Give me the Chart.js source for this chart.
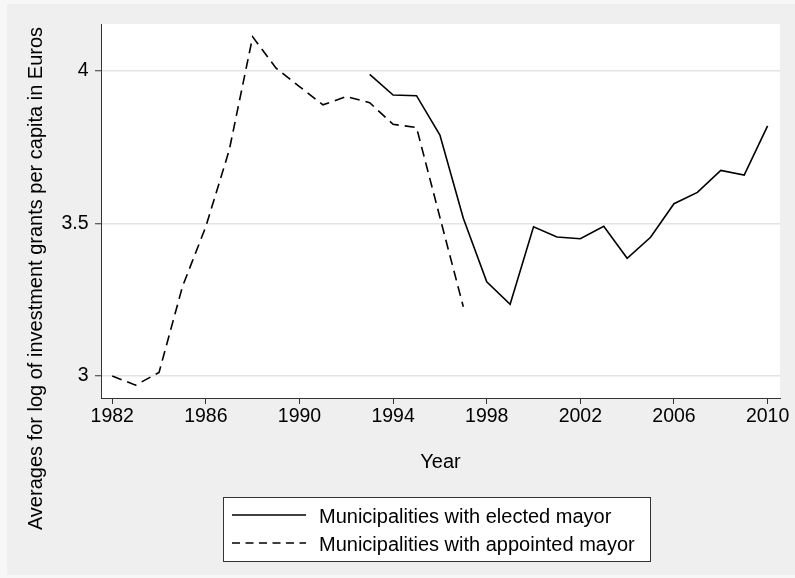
<!DOCTYPE html>
<html>
<head>
<meta charset="utf-8">
<script src="https://cdn.jsdelivr.net/npm/chart.js@4.4.1/dist/chart.umd.min.js"></script>
<style>
  html, body { margin: 0; padding: 0; background: #f7f7f7; }
  canvas { display: block; }
</style>
</head>
<body>
<canvas id="chart" width="795" height="578"></canvas>
<script>
// Yearly averages, appointed-mayor municipalities
const appointedYears  = [1982, 1983, 1984, 1985, 1986, 1987, 1988, 1989, 1990, 1991, 1992, 1993, 1994, 1995, 1996, 1997];
const appointedValues = [3.000, 2.970, 3.012, 3.293, 3.490, 3.741, 4.112, 4.009, 3.949, 3.889, 3.916, 3.896, 3.825, 3.815, 3.520, 3.227];

// Yearly averages, elected-mayor municipalities
const electedYears  = [1993, 1994, 1995, 1996, 1997, 1998, 1999, 2000, 2001, 2002, 2003, 2004, 2005, 2006, 2007, 2008, 2009, 2010];
const electedValues = [3.989, 3.921, 3.919, 3.790, 3.517, 3.309, 3.235, 3.489, 3.456, 3.450, 3.491, 3.386, 3.455, 3.565, 3.602, 3.674, 3.659, 3.820];

const xTickYears  = [1982, 1986, 1990, 1994, 1998, 2002, 2006, 2010];
const xTickLabels = ['1982', '1986', '1990', '1994', '1998', '2002', '2006', '2010'];
const yTickValues = [3, 3.5, 4];
const yTickLabels = ['3', '3.5', '4'];

const seriesLabels = ['Municipalities with elected mayor', 'Municipalities with appointed mayor'];
const xAxisTitle = 'Year';
const yAxisTitle = 'Averages for log of investment grants per capita in Euros';

const FONT = '"Liberation Sans", Arial, Helvetica, sans-serif';
const INK = '#000000';
const AXIS = '#333333';
const DASH = [10, 6];

function toPoints(xs, ys) {
  return xs.map((x, i) => ({ x: x, y: ys[i] }));
}

// Page backdrop: outer margin, grey graph region, white plot region
const backdrop = {
  id: 'backdrop',
  beforeDraw(chart) {
    const ctx = chart.ctx;
    const a = chart.chartArea;
    ctx.save();
    ctx.fillStyle = '#f7f7f7';
    ctx.fillRect(0, 0, chart.width, chart.height);
    ctx.fillStyle = '#efefef';
    ctx.fillRect(7, 4, chart.width - 7, chart.height - 7);
    ctx.fillStyle = '#ffffff';
    ctx.fillRect(a.left, a.top, a.right - a.left, a.bottom - a.top);
    ctx.restore();
  }
};

// Axis titles and the boxed legend underneath
const annotations = {
  id: 'annotations',
  afterDraw(chart) {
    const ctx = chart.ctx;
    const a = chart.chartArea;
    ctx.save();
    ctx.fillStyle = INK;
    ctx.font = '20px ' + FONT;

    // x title
    ctx.textAlign = 'center';
    ctx.textBaseline = 'alphabetic';
    ctx.fillText(xAxisTitle, (a.left + a.right) / 2, 467.5);

    // y title, rotated
    ctx.save();
    ctx.translate(41.5, 278.5);
    ctx.rotate(-Math.PI / 2);
    ctx.fillText(yAxisTitle, 0, 0);
    ctx.restore();

    // legend box
    const bx = 223, by = 497, bw = 428, bh = 65;
    ctx.fillStyle = '#ffffff';
    ctx.fillRect(bx, by, bw, bh);
    ctx.strokeStyle = AXIS;
    ctx.lineWidth = 1;
    ctx.strokeRect(bx + 0.5, by + 0.5, bw - 1, bh - 1);

    const rows = [515, 543];
    chart.data.datasets.forEach((ds, i) => {
      const y = rows[i];
      ctx.save();
      ctx.strokeStyle = ds.borderColor;
      ctx.lineWidth = ds.borderWidth;
      ctx.setLineDash(ds.borderDash && ds.borderDash.length ? [8, 5.5] : []);
      ctx.beginPath();
      ctx.moveTo(232, y);
      ctx.lineTo(306, y);
      ctx.stroke();
      ctx.restore();
      ctx.fillStyle = INK;
      ctx.textAlign = 'left';
      ctx.textBaseline = 'alphabetic';
      ctx.fillText(ds.label, 319, y + 7.5);
    });
    ctx.restore();
  }
};

new Chart(document.getElementById('chart'), {
  type: 'line',
  data: {
    datasets: [
      {
        label: seriesLabels[0],
        data: toPoints(electedYears, electedValues),
        borderColor: INK,
        borderWidth: 1.6,
        borderDash: [],
        pointRadius: 0,
        tension: 0,
        fill: false
      },
      {
        label: seriesLabels[1],
        data: toPoints(appointedYears, appointedValues),
        borderColor: INK,
        borderWidth: 1.6,
        borderDash: DASH,
        pointRadius: 0,
        tension: 0,
        fill: false
      }
    ]
  },
  options: {
    responsive: false,
    animation: false,
    devicePixelRatio: 1,
    layout: { padding: { top: 24, right: 15, bottom: 0, left: 0 } },
    plugins: {
      legend: { display: false },
      title: { display: false },
      tooltip: { enabled: false }
    },
    scales: {
      x: {
        type: 'linear',
        position: 'bottom',
        min: 1981.52,
        max: 2010.53,
        afterBuildTicks(scale) {
          scale.ticks = xTickYears.map(v => ({ value: v }));
        },
        afterFit(scale) { scale.height = 180; },
        ticks: {
          autoSkip: false,
          maxRotation: 0,
          padding: 1,
          color: INK,
          font: { family: FONT, size: 19.5 },
          callback(value) {
            const i = xTickYears.indexOf(value);
            return i >= 0 ? xTickLabels[i] : '';
          }
        },
        grid: {
          drawOnChartArea: false,
          drawTicks: true,
          tickLength: 6,
          tickColor: AXIS,
          tickWidth: 1
        },
        border: { display: true, color: AXIS, width: 1 }
      },
      y: {
        type: 'linear',
        position: 'left',
        min: 2.928,
        max: 4.154,
        afterBuildTicks(scale) {
          scale.ticks = yTickValues.map(v => ({ value: v }));
        },
        afterFit(scale) { scale.width = 101; },
        ticks: {
          autoSkip: false,
          padding: 6.5,
          color: INK,
          font: { family: FONT, size: 19.5 },
          callback(value) {
            const i = yTickValues.indexOf(value);
            return i >= 0 ? yTickLabels[i] : '';
          }
        },
        grid: {
          drawOnChartArea: true,
          color: '#e4e4e4',
          lineWidth: 1.5,
          drawTicks: true,
          tickLength: 6,
          tickColor: AXIS,
          tickWidth: 1
        },
        border: { display: true, color: AXIS, width: 1 }
      }
    }
  },
  plugins: [backdrop, annotations]
});
</script>
</body>
</html>
